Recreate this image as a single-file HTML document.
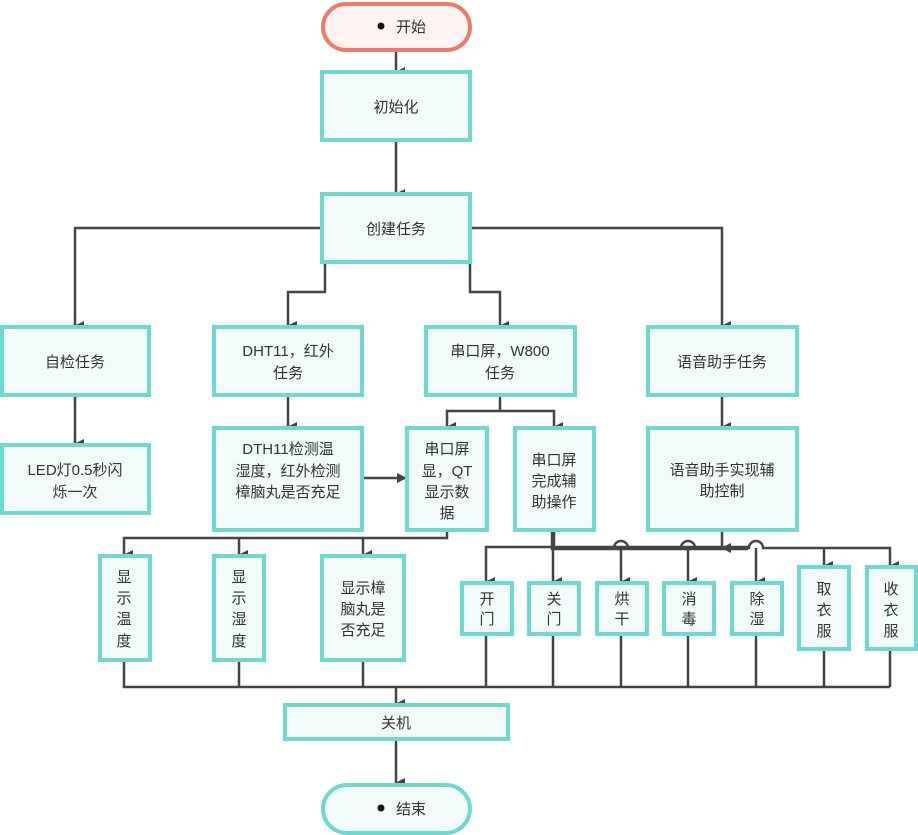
<!DOCTYPE html>
<html><head><meta charset="utf-8"><style>
html,body{margin:0;padding:0;background:#fff;width:918px;height:835px;overflow:hidden}
svg text{font-family:"Liberation Sans","Noto Sans CJK SC",sans-serif;font-size:15px;fill:#333;text-anchor:middle}
</style></head><body>
<svg width="918" height="835" viewBox="0 0 918 835" xmlns="http://www.w3.org/2000/svg">
<defs><marker id="a" markerWidth="10" markerHeight="10" refX="5" refY="9" orient="auto" markerUnits="userSpaceOnUse" viewBox="0 0 10 10"><path d="M0,0 L10,0 L5,10 z" fill="#444"/></marker>
<marker id="r" markerWidth="10" markerHeight="10" refX="9" refY="5" orient="auto" markerUnits="userSpaceOnUse" viewBox="0 0 10 10"><path d="M0,0 L10,5 L0,10 z" fill="#444"/></marker></defs>
<g fill="none" stroke="#444" stroke-width="2.5">
<path d="M396 50 V72" marker-end="url(#a)"/>
<path d="M396 140 V194" marker-end="url(#a)"/>
<path d="M322 228 H75 V326" marker-end="url(#a)"/>
<path d="M470 228 H722 V326" marker-end="url(#a)"/>
<path d="M325 262 V292 H288 V326" marker-end="url(#a)"/>
<path d="M470 262 V292 H500 V326" marker-end="url(#a)"/>
<path d="M75 395 V444" marker-end="url(#a)"/>
<path d="M288 395 V427" marker-end="url(#a)"/>
<path d="M722 395 V427" marker-end="url(#a)"/>
<path d="M500 395 V411 H447 V427" marker-end="url(#a)"/>
<path d="M500 411 H554 V427" marker-end="url(#a)"/>
<path d="M362 478 H406" marker-end="url(#r)"/>
<path d="M447 530 V538 H124 V555" marker-end="url(#a)"/>
<path d="M239 538 V555" marker-end="url(#a)"/>
<path d="M363 538 V555" marker-end="url(#a)"/>
<path d="M124 660 V687 H890"/>
<path d="M239 660 V687 M363 660 V687"/>
<path d="M486 634 V687 M553 634 V687 M621 634 V687 M688 634 V687 M756 634 V687 M824 649 V687 M890 649 V687"/>
<path d="M396 687 V704" marker-end="url(#a)"/>
<path d="M396 739 V783" marker-end="url(#a)"/>
<path d="M553 547 H486 V582" marker-end="url(#a)"/>
<path d="M553 530 V582" marker-end="url(#a)"/>
<path d="M553 548 H614 a7 7 0 0 1 14 0 H681 a7 7 0 0 1 14 0 H749 a7 7 0 0 1 14 0 H890 V566" marker-end="url(#a)"/>
<path d="M824 549 V566" marker-end="url(#a)"/>
<path d="M621 548 V582" marker-end="url(#a)"/>
<path d="M688 548 V582" marker-end="url(#a)"/>
<path d="M756 548 V582" marker-end="url(#a)"/>
<path d="M722 530 V548" marker-end="url(#a)"/>
</g>
<path d="M553 530 V548 H748" stroke="#444" stroke-width="4.5" fill="none"/>
<g stroke="#6dd9cf" stroke-width="4" fill="#f3fafa">
<rect x="322" y="72" width="148" height="68"/>
<rect x="322" y="194" width="148" height="68"/>
<rect x="2" y="327" width="147" height="68"/>
<rect x="214" y="327" width="148" height="68"/>
<rect x="426" y="327" width="149" height="68"/>
<rect x="648" y="327" width="149" height="68"/>
<rect x="2" y="445" width="147" height="68"/>
<rect x="214" y="428" width="148" height="102"/>
<rect x="407" y="428" width="80" height="102"/>
<rect x="515" y="428" width="79" height="102"/>
<rect x="648" y="428" width="149" height="102"/>
<rect x="100" y="556" width="50" height="104"/>
<rect x="214" y="556" width="50" height="104"/>
<rect x="322" y="556" width="82" height="104"/>
<rect x="462" y="583" width="50" height="51"/>
<rect x="529" y="583" width="50" height="51"/>
<rect x="597" y="583" width="50" height="51"/>
<rect x="664" y="583" width="50" height="51"/>
<rect x="732" y="583" width="50" height="51"/>
<rect x="799" y="567" width="50" height="82"/>
<rect x="867" y="567" width="49" height="82"/>
<rect x="285" y="705" width="223" height="34"/>
<rect x="323" y="785" width="147" height="48" rx="24"/>
</g>
<rect x="323" y="4" width="147" height="46" rx="23" fill="#fdf3f1" stroke="#f07a6a" stroke-width="4"/>
<circle cx="381" cy="26" r="3.5" fill="#111"/><circle cx="381" cy="808" r="3.5" fill="#111"/>
<text x="411" y="32">开始</text>
<text x="396" y="112">初始化</text>
<text x="396" y="234">创建任务</text>
<text x="75" y="367">自检任务</text>
<text x="288" y="356">DHT11，红外</text><text x="288" y="378">任务</text>
<text x="500" y="356">串口屏，W800</text><text x="500" y="378">任务</text>
<text x="722" y="367">语音助手任务</text>
<text x="75" y="475">LED灯0.5秒闪</text><text x="75" y="497">烁一次</text>
<text x="288" y="454">DTH11检测温</text><text x="288" y="476">湿度，红外检测</text><text x="288" y="497">樟脑丸是否充足</text>
<text x="447" y="454">串口屏</text><text x="447" y="476">显，QT</text><text x="447" y="497">显示数</text><text x="447" y="518">据</text>
<text x="554" y="465">串口屏</text><text x="554" y="486">完成辅</text><text x="554" y="507">助操作</text>
<text x="722" y="475">语音助手实现辅</text><text x="722" y="496">助控制</text>
<text x="124" y="582">显</text><text x="124" y="603">示</text><text x="124" y="624">温</text><text x="124" y="646">度</text>
<text x="239" y="582">显</text><text x="239" y="603">示</text><text x="239" y="624">湿</text><text x="239" y="646">度</text>
<text x="363" y="593">显示樟</text><text x="363" y="614">脑丸是</text><text x="363" y="635">否充足</text>
<text x="487" y="604">开</text><text x="487" y="624">门</text>
<text x="554" y="604">关</text><text x="554" y="624">门</text>
<text x="622" y="604">烘</text><text x="622" y="624">干</text>
<text x="689" y="604">消</text><text x="689" y="624">毒</text>
<text x="757" y="604">除</text><text x="757" y="624">湿</text>
<text x="824" y="594">取</text><text x="824" y="615">衣</text><text x="824" y="636">服</text>
<text x="891" y="594">收</text><text x="891" y="615">衣</text><text x="891" y="636">服</text>
<text x="396" y="728">关机</text>
<text x="411" y="814">结束</text>
</svg>
</body></html>
